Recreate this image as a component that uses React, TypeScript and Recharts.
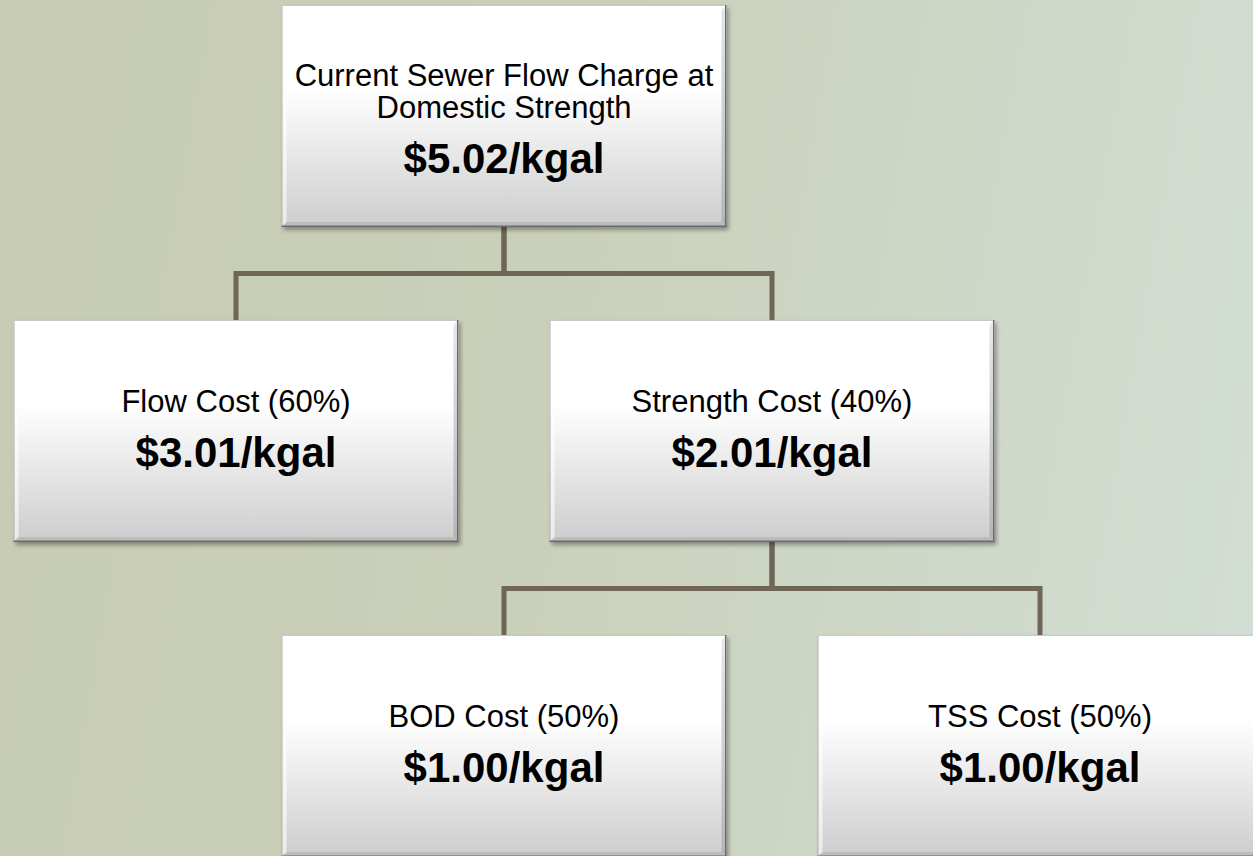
import React from 'react';
import { ComposedChart, XAxis, YAxis, Line, Scatter } from 'recharts';

// tree data: one entry per box
const nodeNames = [
  'Current Sewer Flow Charge at Domestic Strength',
  'Flow Cost',
  'Strength Cost',
  'BOD Cost',
  'TSS Cost',
];
const nodeShares: (number | null)[] = [null, 60, 40, 50, 50];
const nodeRates = [5.02, 3.01, 2.01, 1.0, 1.0];
const nodeParents = [-1, 0, 0, 2, 2];

const FONT = '"Liberation Sans", Arial, sans-serif';
const LINE_COLOR = '#6f6656';
const BOX_W = 445;
const BOX_H = 222;

interface TreeNode {
  id: number;
  col: number;
  row: number;
  label: string;
  rate: string;
  parent: number;
}

// root sits in column 1, children spread one column either side of the parent
function buildTree(): TreeNode[] {
  const out: TreeNode[] = [];
  nodeNames.forEach((name, i) => {
    const p = nodeParents[i];
    let col = 1;
    let row = 0;
    if (p >= 0) {
      const siblings = nodeParents.map((q, j) => (q === p ? j : -1)).filter((j) => j >= 0);
      const k = siblings.length;
      const idx = siblings.indexOf(i);
      col = out[p].col + (2 * idx - (k - 1));
      row = out[p].row + 1;
    }
    const share = nodeShares[i];
    out.push({
      id: i,
      col,
      row,
      label: share == null ? name : `${name} (${share}%)`,
      rate: `$${nodeRates[i].toFixed(2)}/kgal`,
      parent: p,
    });
  });
  return out;
}

const nodes = buildTree();

// elbow connector from each parent to each child
const connectors = nodes
  .filter((n) => n.parent >= 0)
  .map((n) => {
    const p = nodes[n.parent];
    const mid = p.row + 0.5;
    return {
      id: n.id,
      data: [
        { col: p.col, row: p.row },
        { col: p.col, row: mid },
        { col: n.col, row: mid },
        { col: n.col, row: n.row },
      ],
    };
  });

let ctx: CanvasRenderingContext2D | null = null;
function wrap(text: string, size: number, maxW: number): string[] {
  if (!ctx) ctx = document.createElement('canvas').getContext('2d');
  if (!ctx) return [text];
  ctx.font = `${size}px ${FONT}`;
  const words = text.split(' ');
  const lines: string[] = [];
  let cur = '';
  words.forEach((w) => {
    const test = cur ? cur + ' ' + w : w;
    if (ctx!.measureText(test).width > maxW && cur) {
      lines.push(cur);
      cur = w;
    } else {
      cur = test;
    }
  });
  if (cur) lines.push(cur);
  return lines;
}

const NodeBox = (props: any) => {
  const { cx, cy, payload } = props;
  if (cx == null || cy == null) return null;
  const x = cx - BOX_W / 2;
  const y = cy - BOX_H / 2;
  const lines = wrap(payload.label, 31, BOX_W - 10);
  const first = cy - 19 - (lines.length - 1) * 11;
  const b = 5;
  return (
    <g>
      <rect x={x} y={y} width={BOX_W} height={BOX_H} fill="url(#boxFill)" filter="url(#boxShadow)" />
      <polygon
        points={`${x},${y + BOX_H} ${x + b},${y + BOX_H - b} ${x + BOX_W - b},${y + BOX_H - b} ${x + BOX_W},${y + BOX_H}`}
        fill="#bcbcbc"
      />
      <polygon
        points={`${x + BOX_W},${y} ${x + BOX_W - b},${y + b} ${x + BOX_W - b},${y + BOX_H - b} ${x + BOX_W},${y + BOX_H}`}
        fill="url(#sideFill)"
      />
      <polygon
        points={`${x},${y} ${x + b},${y + b} ${x + b},${y + BOX_H - b} ${x},${y + BOX_H}`}
        fill="#ffffff"
        opacity={0.6}
      />
      <line x1={x + 0.5} y1={y} x2={x + 0.5} y2={y + BOX_H} stroke="#a9a9a9" strokeWidth={1} />
      <line x1={x} y1={y + 0.5} x2={x + BOX_W} y2={y + 0.5} stroke="#c8c8c8" strokeWidth={1} />
      <line x1={x + BOX_W - 0.75} y1={y} x2={x + BOX_W - 0.75} y2={y + BOX_H} stroke="#6a6a6a" strokeWidth={1.5} />
      <line x1={x} y1={y + BOX_H - 0.75} x2={x + BOX_W} y2={y + BOX_H - 0.75} stroke="#6a6a6a" strokeWidth={1.5} />
      {lines.map((l, i) => (
        <text key={i} x={cx} y={first + i * 32} textAnchor="middle" fontFamily={FONT} fontSize={31} fill="#000">
          {l}
        </text>
      ))}
      <text
        x={cx}
        y={first + (lines.length - 1) * 32 + 55}
        textAnchor="middle"
        fontFamily={FONT}
        fontSize={42}
        fontWeight="bold"
        fill="#000"
      >
        {payload.rate}
      </text>
    </g>
  );
};

export default function App() {
  return (
    <div
      style={{
        position: 'fixed',
        left: 0,
        top: 0,
        width: 1253,
        height: 856,
        overflow: 'hidden',
        background: 'linear-gradient(100deg, #c7cbb3 0%, #c9cfb8 40%, #cdd6c4 65%, #d3ded5 100%)',
      }}
    >
      <ComposedChart width={1253} height={856} margin={{ top: 0, right: 0, bottom: 0, left: 0 }}>
        <defs>
          <linearGradient id="boxFill" x1="0" y1="0" x2="0" y2="1">
            <stop offset="0%" stopColor="#ffffff" />
            <stop offset="38%" stopColor="#ffffff" />
            <stop offset="100%" stopColor="#cdcdcd" />
          </linearGradient>
          <linearGradient id="sideFill" x1="0" y1="0" x2="0" y2="1">
            <stop offset="0%" stopColor="#e8e8e8" />
            <stop offset="100%" stopColor="#b4b4b4" />
          </linearGradient>
          <filter id="boxShadow" x="-5%" y="-5%" width="112%" height="115%">
            <feDropShadow dx="2" dy="3" stdDeviation="2" floodColor="#000" floodOpacity="0.35" />
          </filter>
        </defs>
        <XAxis type="number" dataKey="col" domain={[-236 / 268, 1017 / 268]} allowDataOverflow hide />
        <YAxis type="number" dataKey="row" domain={[-116 / 315, 740 / 315]} allowDataOverflow reversed hide />
        {connectors.map((c) => (
          <Line
            key={c.id}
            data={c.data}
            dataKey="row"
            type="linear"
            stroke={LINE_COLOR}
            strokeWidth={5}
            strokeLinejoin="miter"
            dot={false}
            activeDot={false}
            isAnimationActive={false}
          />
        ))}
        <Scatter data={nodes} dataKey="row" shape={NodeBox} isAnimationActive={false} />
      </ComposedChart>
    </div>
  );
}
